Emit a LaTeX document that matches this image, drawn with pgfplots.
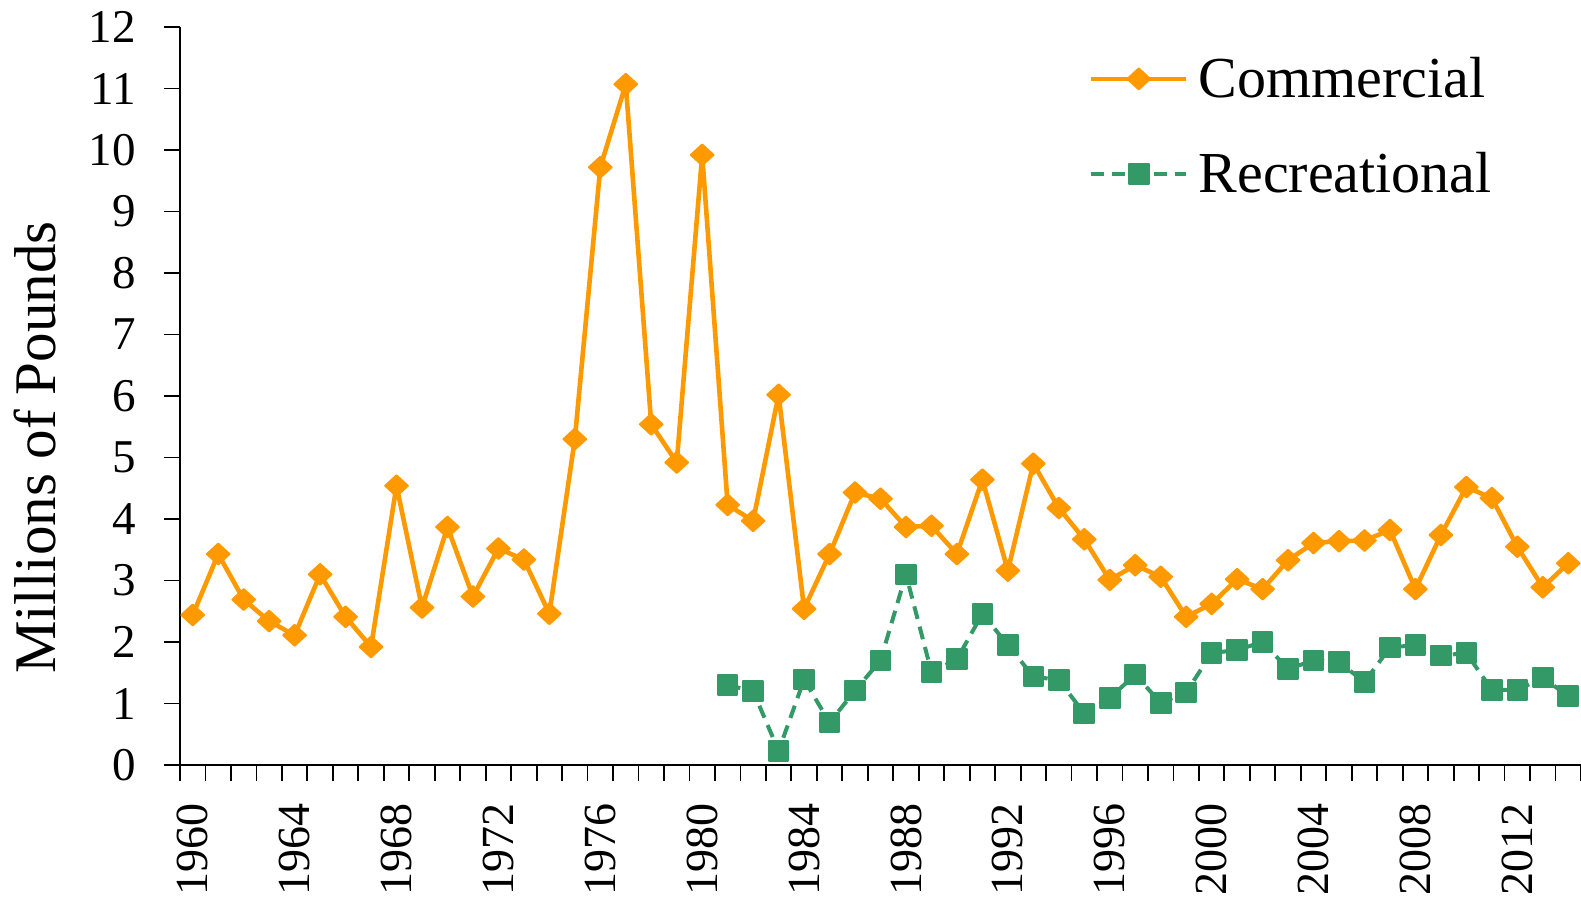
\documentclass[border=0pt]{standalone}
\usepackage{pgfplots}
\pgfplotsset{compat=1.18}
\usepackage{fontspec}
\setmainfont{Liberation Serif}
\definecolor{corange}{RGB}{255,153,0}
\definecolor{cgreen}{RGB}{51,153,102}
\begin{document}
\begin{tikzpicture}
\begin{axis}[
  name=ax,
  scale only axis,
  width=700.5pt, height=369pt,
  xmin=1959.5, xmax=2014.5,
  ymin=0, ymax=12,
  axis x line=bottom, axis y line=left,
  axis line style={-, line width=0.9pt},
  tick style={black, line width=0.9pt},
  tick align=outside,
  major tick length=8pt,
  ytick={0,1,...,12},
  xtick={1959.5,1960.5,...,2014.5},
  xticklabels={1960,,,,1964,,,,1968,,,,1972,,,,1976,,,,1980,,,,1984,,,,1988,,,,1992,,,,1996,,,,2000,,,,2004,,,,2008,,,,2012,,,,},
  /pgf/number format/assume math mode=true,
  ticklabel style={font=\fontsize{23.5}{28}\selectfont},
  yticklabel style={anchor=east, inner sep=0pt, xshift=-14pt},
  xticklabel style={xshift=6.368pt, yshift=-11pt, rotate=90, anchor=east, inner sep=0pt, font=\fontsize{23}{28}\selectfont},
  every axis y label/.style={at={(axis description cs:-0.1035,0.43)}, rotate=90, anchor=center, font=\fontsize{29.5}{35}\selectfont},
  ylabel={Millions of Pounds},
  clip=false,
  legend cell align=left,
  legend image code/.code={\draw[mark repeat=2,mark phase=2] plot coordinates {(0pt,0pt) (23.75pt,0pt) (47.5pt,0pt)};},
  legend style={at={(axis description cs:0.6488,0.959)}, anchor=north west, draw=none, fill=none, inner sep=0pt, outer sep=0pt, row sep=26pt, column sep=5pt, font=\fontsize{29}{35}\selectfont, nodes={inner sep=0pt}},
]
\addplot[color=corange, line width=2.3pt, line join=round, mark=diamond*, mark size=5.2pt, mark options={solid, xscale=1.45, line width=1pt, line join=round, fill=corange}] coordinates {
(1960,2.44) (1961,3.43) (1962,2.69) (1963,2.34) (1964,2.11) (1965,3.10) (1966,2.41) (1967,1.92) (1968,4.54) (1969,2.56)
(1970,3.87) (1971,2.74) (1972,3.52) (1973,3.34) (1974,2.46) (1975,5.30) (1976,9.72) (1977,11.07) (1978,5.54) (1979,4.92)
(1980,9.92) (1981,4.23) (1982,3.97) (1983,6.02) (1984,2.54) (1985,3.43) (1986,4.43) (1987,4.33) (1988,3.87) (1989,3.89)
(1990,3.43) (1991,4.64) (1992,3.16) (1993,4.90) (1994,4.18) (1995,3.67) (1996,3.01) (1997,3.25) (1998,3.06) (1999,2.41)
(2000,2.62) (2001,3.02) (2002,2.86) (2003,3.33) (2004,3.61) (2005,3.64) (2006,3.65) (2007,3.82) (2008,2.86) (2009,3.74)
(2010,4.52) (2011,4.34) (2012,3.55) (2013,2.89) (2014,3.28)
};
\addlegendentry{Commercial}
\addplot[color=cgreen, line width=2pt, dash pattern=on 6.5pt off 4pt, mark=square*, mark size=4.9pt, mark options={solid, line width=1pt, line join=round, fill=cgreen}] coordinates {
(1981,1.30) (1982,1.20) (1983,0.23) (1984,1.39) (1985,0.69) (1986,1.21) (1987,1.70) (1988,3.10) (1989,1.51)
(1990,1.72) (1991,2.46) (1992,1.95) (1993,1.44) (1994,1.38) (1995,0.84) (1996,1.09) (1997,1.47) (1998,1.01) (1999,1.18)
(2000,1.82) (2001,1.87) (2002,2.00) (2003,1.56) (2004,1.70) (2005,1.67) (2006,1.35) (2007,1.91) (2008,1.95) (2009,1.78)
(2010,1.82) (2011,1.22) (2012,1.22) (2013,1.42) (2014,1.12)
};
\addlegendentry{Recreational}
\coordinate (sw) at (rel axis cs:0,0);
\coordinate (ne) at (rel axis cs:1,1);
\end{axis}
\pgfresetboundingbox
\path[use as bounding box] ([shift={(-90pt,-67.5pt)}]sw) rectangle ([shift={(0pt,13.5pt)}]ne);
\end{tikzpicture}
\end{document}
